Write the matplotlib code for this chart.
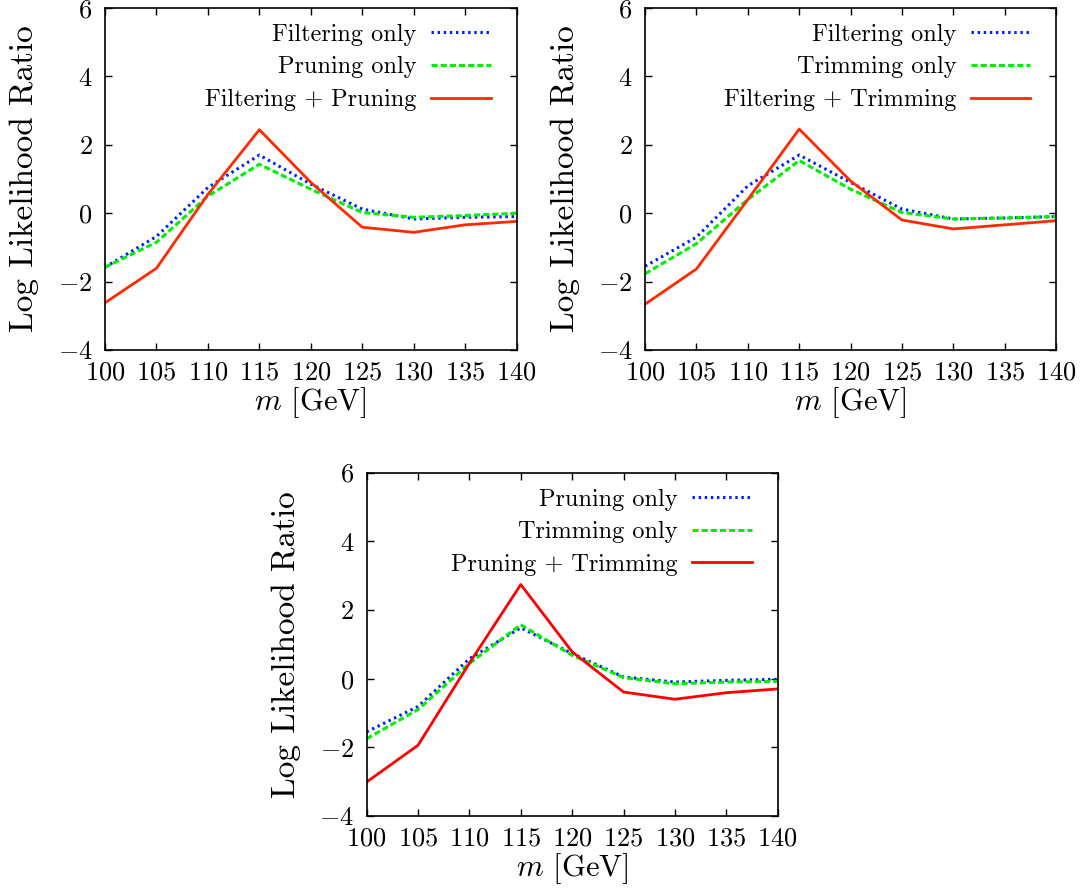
import numpy as np
import matplotlib
matplotlib.use("Agg")
import matplotlib.pyplot as plt

plt.rcParams['font.family'] = 'serif'
plt.rcParams['font.serif'] = ['cmr10', 'DejaVu Serif']
plt.rcParams['mathtext.fontset'] = 'cm'
plt.rcParams['axes.formatter.use_mathtext'] = True

mass = [100, 105, 110, 115, 120, 125, 130, 135, 140]

# panel 1: filtering / pruning
filt_1 = [-1.58, -0.68, 0.75, 1.70, 0.85, 0.12, -0.17, -0.12, -0.10]
prun_1 = [-1.58, -0.85, 0.50, 1.43, 0.70, 0.02, -0.12, -0.07, 0.00]
comb_1 = [-2.62, -1.61, 0.55, 2.44, 0.90, -0.41, -0.56, -0.34, -0.24]

# panel 2: filtering / trimming
filt_2 = [-1.55, -0.70, 0.80, 1.70, 0.90, 0.12, -0.17, -0.14, -0.10]
trim_2 = [-1.77, -0.89, 0.40, 1.54, 0.70, 0.02, -0.17, -0.14, -0.10]
comb_2 = [-2.66, -1.63, 0.40, 2.46, 0.94, -0.20, -0.46, -0.34, -0.22]

# panel 3: pruning / trimming
prun_3 = [-1.55, -0.81, 0.58, 1.48, 0.73, 0.05, -0.10, -0.05, -0.02]
trim_3 = [-1.75, -0.90, 0.44, 1.57, 0.68, 0.03, -0.15, -0.10, -0.08]
comb_3 = [-3.01, -1.94, 0.45, 2.74, 0.78, -0.39, -0.60, -0.41, -0.30]

panels = [
    ([0.0967, 0.6076, 0.379, 0.3835], filt_1, prun_1, comb_1,
     ["Filtering only", "Pruning only", "Filtering + Pruning"], '#ff2a00'),
    ([0.594, 0.6076, 0.3785, 0.3835], filt_2, trim_2, comb_2,
     ["Filtering only", "Trimming only", "Filtering + Trimming"], '#ff2a00'),
    ([0.3376, 0.0852, 0.3785, 0.385], prun_3, trim_3, comb_3,
     ["Pruning only", "Trimming only", "Pruning + Trimming"], '#ff0000'),
]

fig = plt.figure(figsize=(10.86, 8.92), dpi=100)

for rect, a, b, c, names, red in panels:
    ax = fig.add_axes(rect)
    ax.plot(mass, a, color='#0020ff', lw=2.2, linestyle=(0, (0.8, 1.2)), label=names[0])
    ax.plot(mass, b, color='#00ee00', lw=2.2, linestyle=(0, (2.0, 1.0)), label=names[1])
    ax.plot(mass, c, color=red, lw=2.0, label=names[2])
    ax.set_xlim(100, 140)
    ax.set_ylim(-4, 6)
    ax.set_xticks(np.arange(100, 141, 5))
    ax.set_yticks(np.arange(-4, 7, 2))
    ax.tick_params(direction='in', top=True, right=True, length=5, width=1,
                   labelsize=19)
    ax.tick_params(axis='x', pad=8)
    ax.tick_params(axis='y', pad=9)
    for s in ax.spines.values():
        s.set_linewidth(1.2)
    ax.set_xlabel(r'$m$ [GeV]', fontsize=22, labelpad=0)
    ax.set_ylabel('Log Likelihood Ratio', fontsize=24, labelpad=13)
    ax.legend(loc='upper right', bbox_to_anchor=(0.955, 0.975), frameon=False,
              markerfirst=False, fontsize=17.5, handlelength=2.45,
              handletextpad=0.6, labelspacing=0.43, borderaxespad=0,
              borderpad=0.3)

fig.savefig('out.png', dpi=100)
